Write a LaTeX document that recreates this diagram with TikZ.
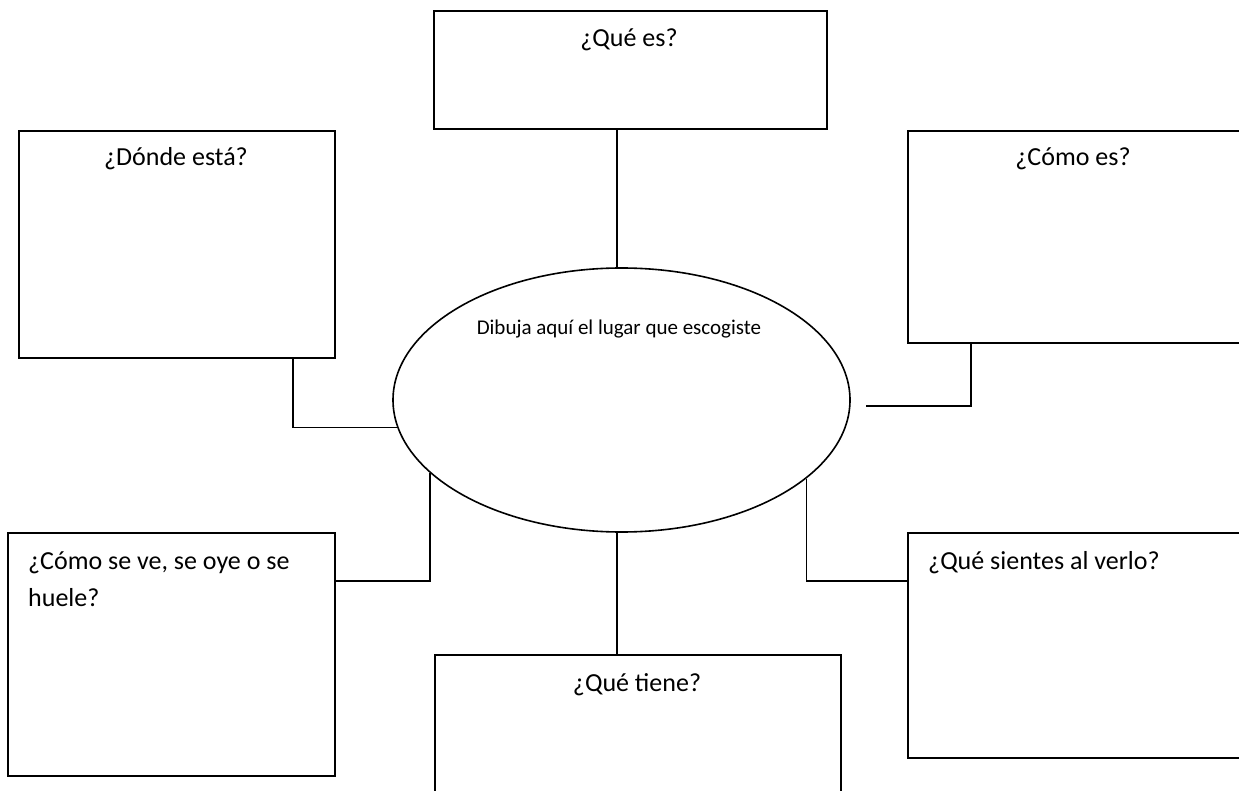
\documentclass[tikz,border=0pt]{standalone}
\usepackage{fontspec}
\setmainfont{Carlito}
\usetikzlibrary{shapes.geometric,calc}
\begin{document}
\begin{tikzpicture}[x=1pt,y=-1pt,
  box/.style={draw, line width=1.8pt, rectangle, inner sep=0pt, anchor=north west},
  oval/.style={draw, line width=1.6pt, ellipse, inner sep=0pt},
  lbl/.style={inner sep=0pt, anchor=base, font=\fontsize{26}{37}\selectfont},
  small/.style={inner sep=0pt, anchor=base, font=\fontsize{21}{25}\selectfont},
  conn/.style={line width=1.8pt},
]
\useasboundingbox (0,0) rectangle (1239,791);
% boxes
\node[box, minimum width=393pt, minimum height=118pt] (que) at (433,10) {};
\node[box, minimum width=316pt, minimum height=227pt] (donde) at (18,130) {};
\node[box, minimum width=335pt, minimum height=212pt] (como) at (907,130) {};
\node[box, minimum width=327pt, minimum height=243pt] (ve) at (7,532) {};
\node[box, minimum width=335pt, minimum height=225pt] (siente) at (907,532) {};
\node[box, minimum width=406pt, minimum height=160pt] (tiene) at (434,654) {};
% central ellipse
\node[oval, minimum width=457pt, minimum height=264pt] (e) at (621.5,400) {};
% texts
\node[lbl] (tque) at (629,47) {¿Qué es?};
\node[lbl] (tdonde) at (176,166) {¿Dónde está?};
\node[lbl] (tcomo) at (1073,166) {¿Cómo es?};
\node[lbl, anchor=base west, align=left] (tve) at (28,606) {¿Cómo se ve, se oye o se\\huele?};
\node[lbl, anchor=base west] (tsiente) at (928,569) {¿Qué sientes al verlo?};
\node[lbl] (ttiene) at (637,691) {¿Qué tiene?};
\node[small] (te) at (619,335) {Dibuja aquí el lugar que escogiste};
% connectors
\coordinate (free) at (866,406);
\draw[conn] ([xshift=-4.5pt]e.north) -- ([xshift=-4.5pt]e.north |- que.south);
\draw[conn] ([xshift=-4.5pt]e.south) -- ([xshift=-4.5pt]e.south |- tiene.north);
\draw[conn] ([xshift=275pt]donde.south west) |- (e.187.7);
\draw[conn] ([xshift=64pt]como.south west) |- (free);
\draw[conn] ([yshift=-49pt]ve.north east) -| (e.201.9);
\draw[conn] ([yshift=-49pt]siente.north west) -| (e.337.4);
\end{tikzpicture}
\end{document}
